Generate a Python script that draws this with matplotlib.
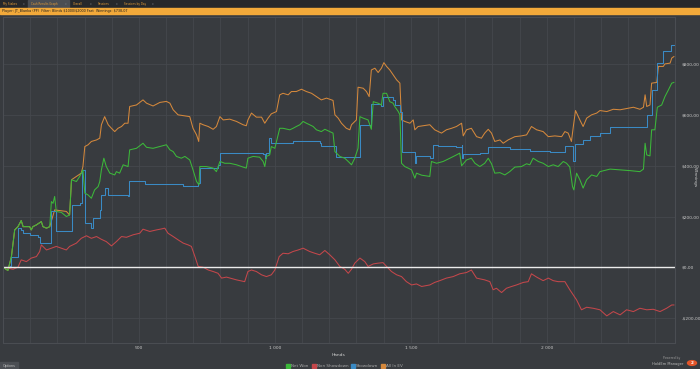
import matplotlib
matplotlib.use("Agg")
import matplotlib.pyplot as plt
from matplotlib.patches import Rectangle, Circle
from matplotlib.lines import Line2D

# ---- data (hands, cumulative $) ----
net_hands = [0, 18, 31, 43, 55, 67, 74, 98, 104, 110, 123, 141, 147, 160, 172, 178, 184, 190, 196, 215,
             233, 245, 252, 270, 282, 294, 301, 313, 325, 337, 350, 356, 362, 371, 380, 393, 411, 417, 429,
             442, 460, 466, 491, 515, 528, 552, 577, 601, 614, 626, 638, 656, 669, 687, 699, 712, 721, 724,
             748, 773, 785, 798, 816, 834, 859, 883, 895, 901, 920, 944, 957, 963, 969, 981, 987, 1000,
             1018, 1030, 1055, 1067, 1079, 1092, 1104, 1116, 1128, 1141, 1153, 1171, 1184, 1202, 1214,
             1221, 1239, 1257, 1270, 1282, 1294, 1306, 1313, 1325, 1343, 1355, 1362, 1380, 1392, 1398,
             1411, 1423, 1435, 1441, 1454, 1460, 1466, 1478, 1490, 1503, 1515, 1521, 1540, 1570, 1576,
             1595, 1619, 1644, 1668, 1680, 1687, 1705, 1723, 1736, 1754, 1772, 1785, 1797, 1809, 1828,
             1846, 1864, 1883, 1907, 1926, 1938, 1950, 1969, 1987, 2006, 2024, 2042, 2061, 2073, 2085,
             2095, 2100, 2110, 2122, 2134, 2147, 2165, 2184, 2196, 2233, 2270, 2306, 2343, 2356, 2362,
             2368, 2380, 2386, 2398, 2407, 2423, 2435, 2448, 2460, 2468]
net_won = [0, -13, 42, 147, 160, 184, 160, 160, 147, 160, 167, 180, 160, 154, 160, 259, 252, 279, 220, 216,
           200, 206, 345, 338, 358, 384, 292, 285, 272, 305, 318, 338, 384, 430, 397, 371, 364, 377, 371,
           404, 397, 463, 469, 489, 473, 469, 476, 483, 463, 456, 437, 430, 437, 423, 384, 338, 325, 397,
           397, 391, 377, 417, 410, 410, 404, 395, 391, 430, 437, 434, 417, 397, 437, 443, 476, 469,
           548, 548, 542, 548, 555, 562, 575, 568, 562, 555, 542, 535, 544, 535, 529,
           456, 437, 430, 417, 404, 430, 469, 594, 588, 581, 544, 653, 647, 640, 686,
           686, 653, 647, 634, 614, 601, 410, 397, 391, 384, 351, 371, 363, 358, 417,
           410, 417, 430, 443, 450, 400, 423, 430, 410, 397, 410, 430, 408, 371, 373,
           364, 377, 395, 397, 408, 404, 430, 417, 410, 397, 404, 397, 417, 410, 395,
           318, 305, 371, 345, 312, 345, 364, 358, 377, 387, 384, 381, 377, 387, 489,
           443, 439, 542, 542, 631, 640, 673, 700, 726, 729]

nsd_hands = [0, 37, 55, 67, 86, 104, 123, 135, 141, 160, 178, 196, 215, 233, 245, 270, 288, 307, 325, 344,
             362, 380, 399, 417, 436, 454, 479, 503, 515, 540, 564, 583, 595, 607, 626, 644, 663, 681,
             693, 706, 718, 736, 755, 773, 791, 804, 822, 859, 889, 901, 914, 932, 951, 969, 987, 1000,
             1016, 1030, 1049, 1067, 1086, 1104, 1128, 1147, 1165, 1184, 1202, 1221, 1239, 1257, 1270,
             1282, 1294, 1313, 1331, 1343, 1362, 1380, 1398, 1411, 1429, 1448, 1466, 1484, 1503, 1521,
             1540, 1570, 1588, 1607, 1631, 1656, 1680, 1705, 1723, 1742, 1772, 1791, 1803, 1815, 1834,
             1852, 1871, 1889, 1914, 1932, 1944, 1963, 1987, 2006, 2024, 2042, 2067, 2085, 2110, 2128,
             2147, 2171, 2196, 2221, 2245, 2270, 2294, 2319, 2343, 2368, 2392, 2417, 2441, 2460, 2468]
non_showdown = [0, -8, 0, 29, 22, 36, 42, 62, 88, 68, 75, 82, 75, 68, 82, 95, 114, 124, 114, 121,
                110, 101, 84, 101, 121, 118, 128, 134, 150, 141, 147, 151, 154, 134, 121, 108, 95, 88,
                82, 42, 3, 0, -11, -17, -24, -43, -39, -50, -57, -17, -11, -17, -30, -37, -30, -11,
                42, 55, 53, 62, 68, 75, 62, 55, 49, 66, 49, 29, 3, -8, -24,
                -8, 16, 36, 22, 3, 13, 16, 18, 3, -17, -30, -37, -57, -70, -66,
                -76, -70, -60, -53, -43, -37, -26, -21, -11, -43, -50, -57, -89, -83, -100,
                -83, -76, -70, -60, -57, -26, -39, -53, -43, -53, -57, -57, -89, -129, -168,
                -158, -162, -168, -192, -175, -188, -168, -175, -162, -168, -166, -175, -162, -149, -149]

sd_hands = [0, 25, 31, 43, 55, 67, 74, 98, 129, 135, 172, 178, 194, 196, 248, 252, 282, 292, 301, 319,
            325, 331, 356, 362, 374, 387, 460, 464, 518, 521, 663, 718, 724, 791, 798, 834, 895, 957,
            963, 969, 979, 987, 1067, 1165, 1168, 1221, 1224, 1306, 1313, 1349, 1355, 1392, 1398, 1435,
            1441, 1460, 1466, 1509, 1515, 1521, 1570, 1580, 1601, 1668, 1687, 1689, 1693, 1754, 1785,
            1864, 1938, 2012, 2067, 2095, 2098, 2104, 2134, 2159, 2196, 2233, 2270, 2368, 2386, 2407,
            2429, 2456, 2468]
showdown = [0, 3, 42, 42, 154, 147, 134, 128, 121, 95, 95, 220, 220, 141, 141, 246, 252, 384, 174, 174,
            154, 193, 226, 285, 312, 285, 279, 342, 342, 329, 322, 334, 391, 404, 450, 452, 450, 447,
            430, 450, 509, 489, 496, 489, 479, 479, 434, 434, 562, 558, 644, 634, 673, 660,
            640, 614, 456, 456, 410, 437, 430, 483, 479, 476, 483, 430, 447, 450, 473,
            466, 460, 455, 479, 479, 417, 487, 502, 518, 529, 553, 555, 601, 700, 805,
            851, 877, 877]

ev_hands = [0, 18, 31, 43, 55, 67, 74, 98, 104, 110, 123, 141, 147, 160, 172, 190, 233, 245, 252, 270,
            288, 294, 301, 313, 325, 344, 356, 362, 374, 387, 399, 411, 423, 436, 448, 460, 466, 491,
            515, 528, 552, 577, 601, 614, 626, 644, 669, 687, 699, 712, 720, 724, 736, 755, 773, 785,
            798, 810, 834, 859, 883, 895, 901, 914, 932, 951, 963, 975, 987, 1006, 1018, 1030, 1049,
            1061, 1079, 1098, 1116, 1135, 1153, 1171, 1190, 1214, 1221, 1233, 1245, 1263, 1276, 1282,
            1300, 1306, 1325, 1337, 1347, 1355, 1368, 1380, 1392, 1401, 1411, 1423, 1435, 1448, 1460,
            1466, 1478, 1497, 1509, 1515, 1527, 1570, 1588, 1613, 1631, 1650, 1668, 1687, 1693, 1705,
            1723, 1742, 1760, 1772, 1785, 1797, 1809, 1828, 1840, 1858, 1871, 1883, 1907, 1926, 1944,
            1963, 1987, 2006, 2030, 2055, 2067, 2079, 2091, 2098, 2106, 2122, 2134, 2147, 2165, 2184,
            2196, 2221, 2245, 2270, 2294, 2319, 2343, 2356, 2362, 2368, 2380, 2386, 2405, 2411, 2429,
            2435, 2454, 2460, 2468]
all_in_ev = [0, -13, 42, 147, 160, 184, 160, 160, 147, 160, 167, 180, 160, 154, 160, 226, 220, 206, 345, 358,
             371, 397, 476, 483, 496, 502, 509, 562, 594, 562, 548, 535, 548, 555, 568, 568, 634, 640,
             660, 647, 636, 650, 654, 647, 621, 601, 597, 594, 548, 522, 496, 568, 562, 555, 544, 555,
             594, 581, 584, 575, 562, 558, 581, 608, 592, 592, 568, 588, 605, 614, 680, 686, 680,
             693, 693, 702, 693, 686, 673, 660, 667, 658, 601, 588, 568, 548, 542, 562,
             581, 710, 706, 693, 673, 778, 785, 768, 785, 807, 792, 778, 759, 739, 726,
             581, 575, 568, 581, 542, 555, 562, 542, 529, 542, 548, 555, 568, 518, 542,
             548, 515, 509, 529, 544, 529, 496, 502, 489, 502, 509, 515, 518, 522, 555,
             542, 535, 515, 518, 515, 535, 529, 496, 555, 618, 581, 555, 588, 601, 608,
             618, 614, 623, 621, 626, 631, 623, 631, 680, 634, 640, 726, 729, 792, 792,
             802, 805, 825, 831]

y_ticks = [-200, 0, 200, 400, 600, 800]
y_labels = ["-$200,00", "$0,00", "$200,00", "$400,00", "$600,00", "$800,00"]
x_ticks = [500, 1000, 1500, 2000]
x_labels = ["500", "1 000", "1 500", "2 000"]
tabs = ["My Stakes", "Cash Results Graph", "Overall", "Sessions", "Sessions by Day"]
series_names = ["Net Won", "Non Showdown", "Showdown", "All In EV"]

BG = "#383b3f"
GREEN, RED, BLUE, ORANGE = "#3cb83a", "#c4474b", "#3a8ac4", "#d4883c"
W, H = 700, 369

fig = plt.figure(figsize=(7, 3.69), dpi=100, facecolor=BG)

def box(x0, y0, w, h, color, **kw):
    # pixel coords, origin top-left
    fig.patches.append(Rectangle((x0 / W, 1 - (y0 + h) / H), w / W, h / H,
                                 transform=fig.transFigure, color=color, **kw))

# tab strip + orange header
box(0, 0, W, 7.5, "#26282b")
tab_x = [0, 28, 70, 95, 121]
tab_w = [27, 41, 24, 25, 35]
for i, (t, x0, w) in enumerate(zip(tabs, tab_x, tab_w)):
    if i == 1:
        box(x0, 0, w, 7.5, "#4b4e53")
    fig.text((x0 + 3) / W, 1 - 3.8 / H, t, fontsize=2.0, color="#e39a35", va="center")
    fig.text((x0 + w - 4) / W, 1 - 3.8 / H, "x", fontsize=2.0, color="#777a80", va="center")
box(0, 8, W, 5.5, "#f2a93a")
fig.text(2 / W, 1 - 10.8 / H,
         "Player: JT_Blanka (PP)  Filter: Blinds $1000/$2000 Fast  Winnings: $738,07",
         fontsize=2.4, color="#1e1e1e", va="center")

ax = fig.add_axes([3 / W, 26 / H, 672 / W, 326 / H])
ax.set_facecolor(BG)
ax.plot(ev_hands, all_in_ev, color=ORANGE, lw=0.75)
ax.plot(sd_hands, showdown, color=BLUE, lw=0.75, drawstyle="steps-post")
ax.plot(nsd_hands, non_showdown, color=RED, lw=0.75)
ax.plot(net_hands, net_won, color=GREEN, lw=0.75)
ax.axhline(0, color="#ececec", lw=1.0)

ax.set_xlim(0, 2472)
ax.set_ylim(-299, 987)
ax.set_xticks(x_ticks, x_labels)
ax.set_xticks(range(0, 2472, 100), minor=True)
ax.set_yticks(y_ticks, y_labels)
ax.yaxis.tick_right()
ax.grid(True, which="both", color="#45484d", lw=0.6)
ax.tick_params(which="both", length=0, labelsize=3.2, colors="#c8c8c8")
ax.tick_params(axis="y", pad=5)
ax.tick_params(axis="x", pad=2.5)
for s in ax.spines.values():
    s.set_color("#4a4d52")
    s.set_linewidth(0.8)

fig.text(338 / W, 1 - 355 / H, "Hands", fontsize=3.2, color="#d0d0d0", ha="center", va="center")
fig.text(695 / W, 1 - 177 / H, "Winnings", fontsize=3.2, color="#d0d0d0", rotation=270,
         ha="center", va="center")

handles = [Line2D([], [], ls="", marker="s", ms=2.2, color=c) for c in (GREEN, RED, BLUE, ORANGE)]
fig.legend(handles, series_names, loc="center", bbox_to_anchor=(345 / W, 1 - 366 / H), ncol=4,
           frameon=False, fontsize=3, labelcolor="#a8a8a8", handletextpad=0.3,
           columnspacing=0.8, handlelength=0.8)

# bottom-left button and branding
box(0, 362, 18, 7, "#4b4e53")
fig.text(9 / W, 1 - 365.5 / H, "Options", fontsize=2.4, color="#c0c0c0", ha="center", va="center")
fig.text(672 / W, 1 - 358.5 / H, "Powered by", fontsize=2.2, color="#9a9a9a", ha="center", va="center")
fig.text(668 / W, 1 - 363.5 / H, "HoldEm Manager", fontsize=2.6, color="#b8b8b8", ha="center", va="center")
fig.patches.append(Circle((692 / W, 1 - 363 / H), 4.5 / W, transform=fig.transFigure, color="#e2552a"))
fig.text(692 / W, 1 - 363 / H, "2", fontsize=3, color="white", ha="center", va="center", weight="bold")

fig.savefig("out.png", dpi=100, facecolor=BG)
